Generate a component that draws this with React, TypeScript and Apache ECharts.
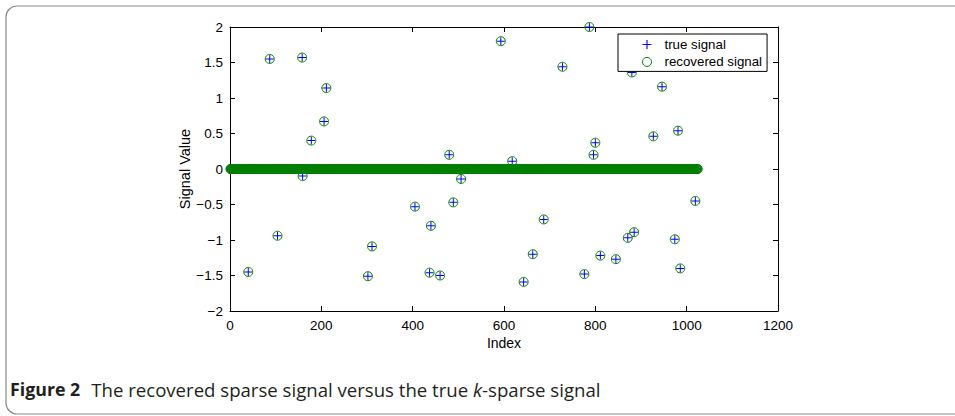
import React, { useEffect, useRef } from "react";
import * as echarts from "echarts";

// Signal length and the non-zero entries (index, value)
const signalLength = 1024;
const spikeIndex = [
  40, 87, 104, 158, 159, 178, 206, 211, 302, 311, 405, 437, 440, 460, 480, 489, 506,
  593, 618, 643, 663, 687, 728, 776, 787, 796, 800, 811, 845, 871, 880, 885, 927, 946,
  974, 981, 986, 1019,
];
const trueValues = [
  -1.45, 1.55, -0.94, 1.57, -0.1, 0.4, 0.67, 1.14, -1.51, -1.09, -0.53, -1.46, -0.8, -1.5,
  0.2, -0.47, -0.14, 1.8, 0.11, -1.59, -1.2, -0.71, 1.44, -1.48, 2.0, 0.2, 0.37, -1.22,
  -1.27, -0.97, 1.36, -0.89, 0.46, 1.16, -0.99, 0.54, -1.4, -0.45,
];
const recoveredValues = [
  -1.45, 1.55, -0.94, 1.57, -0.1, 0.4, 0.67, 1.14, -1.51, -1.09, -0.53, -1.46, -0.8, -1.5,
  0.2, -0.47, -0.14, 1.8, 0.11, -1.59, -1.2, -0.71, 1.44, -1.48, 2.0, 0.2, 0.37, -1.22,
  -1.27, -0.97, 1.36, -0.89, 0.46, 1.16, -0.99, 0.54, -1.4, -0.45,
];
const seriesNames = ["true signal", "recovered signal"];
const xAxisRange = { min: 0, max: 1200, interval: 200 };
const yAxisRange = { min: -2, max: 2, interval: 0.5 };
const xAxisTitle = "Index";
const yAxisTitle = "Signal Value";
const captionBold = "Figure 2";
const captionPre = "The recovered sparse signal versus the true ";
const captionItalic = "k";
const captionPost = "-sparse signal";

const PLUS_PATH = "path://M3.5,0H4.5V3.5H8V4.5H4.5V8H3.5V4.5H0V3.5H3.5Z";

function buildSignal(values: number[]): number[][] {
  const rows: number[][] = [];
  for (let i = 1; i <= signalLength; i++) rows.push([i, 0]);
  spikeIndex.forEach((idx, k) => {
    rows[idx - 1] = [idx, values[k]];
  });
  return rows;
}

export default function App() {
  const ref = useRef<HTMLDivElement>(null);
  useEffect(() => {
    if (!ref.current) return;
    const chart = echarts.init(ref.current, null, { renderer: "svg" });
    const font = "Liberation Sans";
    const fmt = (v: number) => String(v).replace("-", "\u2212");
    const tickCommon = {
      show: true,
      inside: true,
      length: 5,
      lineStyle: { color: "#000", width: 1 },
    };
    const lineCommon = { show: true, onZero: false, lineStyle: { color: "#000", width: 1 } };
    const capFill = "#231f20";
    chart.setOption({
      animation: false,
      backgroundColor: "#fff",
      grid: { left: 230, top: 27, width: 548, height: 284, containLabel: false },
      xAxis: [
        {
          type: "value",
          position: "bottom",
          ...xAxisRange,
          name: xAxisTitle,
          nameLocation: "middle",
          nameGap: 25,
          nameMoveOverlap: false,
          nameTextStyle: { color: "#000", fontFamily: font, fontSize: 14 },
          axisLine: lineCommon,
          axisTick: tickCommon,
          splitLine: { show: false },
          axisLabel: {
            color: "#000",
            fontFamily: font,
            fontSize: 13.5,
            margin: 7,
            formatter: (v: number) => String(v),
          },
        },
        {
          type: "value",
          position: "top",
          ...xAxisRange,
          axisLine: lineCommon,
          axisTick: tickCommon,
          splitLine: { show: false },
          axisLabel: { show: false },
        },
      ],
      yAxis: [
        {
          type: "value",
          position: "left",
          ...yAxisRange,
          name: yAxisTitle,
          nameLocation: "middle",
          nameGap: 38,
          nameMoveOverlap: false,
          nameRotate: 90,
          nameTextStyle: { color: "#000", fontFamily: font, fontSize: 14.5 },
          axisLine: lineCommon,
          axisTick: tickCommon,
          splitLine: { show: false },
          axisLabel: { color: "#000", fontFamily: font, fontSize: 13.5, margin: 7, formatter: fmt },
        },
        {
          type: "value",
          position: "right",
          ...yAxisRange,
          axisLine: lineCommon,
          axisTick: tickCommon,
          splitLine: { show: false },
          axisLabel: { show: false },
        },
      ],
      legend: {
        left: 618,
        top: 34,
        orient: "vertical",
        selectedMode: false,
        backgroundColor: "#fff",
        borderColor: "#000",
        borderWidth: 1,
        borderRadius: 0,
        padding: [3, 5, 2, 24],
        itemWidth: 25,
        itemHeight: 9,
        itemGap: 2.4,
        textStyle: { color: "#000", fontFamily: font, fontSize: 13.3, lineHeight: 15 },
        data: [
          {
            name: seriesNames[0],
            icon: PLUS_PATH,
            itemStyle: { color: "#0000ff", borderWidth: 0 },
          },
          {
            name: seriesNames[1],
            icon: "circle",
            itemStyle: { color: "rgba(0,0,0,0)", borderColor: "#008000", borderWidth: 1 },
          },
        ],
      },
      series: [
        {
          name: seriesNames[0],
          type: "scatter",
          xAxisIndex: 0,
          yAxisIndex: 0,
          symbol: PLUS_PATH,
          symbolSize: 8,
          silent: true,
          itemStyle: { color: "#0000ff", borderWidth: 0, opacity: 1 },
          data: buildSignal(trueValues),
        },
        {
          name: seriesNames[1],
          type: "scatter",
          xAxisIndex: 0,
          yAxisIndex: 0,
          symbol: "circle",
          symbolSize: 9,
          silent: true,
          itemStyle: {
            color: "rgba(0,0,0,0)",
            borderColor: "#008000",
            borderWidth: 1,
            opacity: 1,
          },
          data: buildSignal(recoveredValues),
        },
      ],
      graphic: [
        {
          type: "rect",
          z: -10,
          silent: true,
          shape: { x: 6, y: 6, width: 1000, height: 408, r: 11 },
          style: { fill: "none", stroke: "#8a8a8a", lineWidth: 1.2 },
        },
        {
          type: "text",
          silent: true,
          x: 10,
          y: 389,
          style: {
            text:
              "{b|" + captionBold + "}{r|" + captionPre + "}{i|" + captionItalic + "}{r|" + captionPost + "}",
            verticalAlign: "middle",
            rich: {
              b: {
                fontFamily: "Open Sans",
                fontWeight: "bold",
                fontSize: 17.8,
                fill: capFill,
                padding: [0, 11, 0, 0],
              },
              r: { fontFamily: "Open Sans", fontSize: 18.6, fill: capFill },
              i: { fontFamily: "Open Sans", fontStyle: "italic", fontSize: 18.6, fill: capFill },
            },
          },
        },
      ],
    });
    return () => chart.dispose();
  }, []);
  return (
    <div
      ref={ref}
      style={{ position: "fixed", left: 0, top: 0, width: 955, height: 416 }}
    />
  );
}
